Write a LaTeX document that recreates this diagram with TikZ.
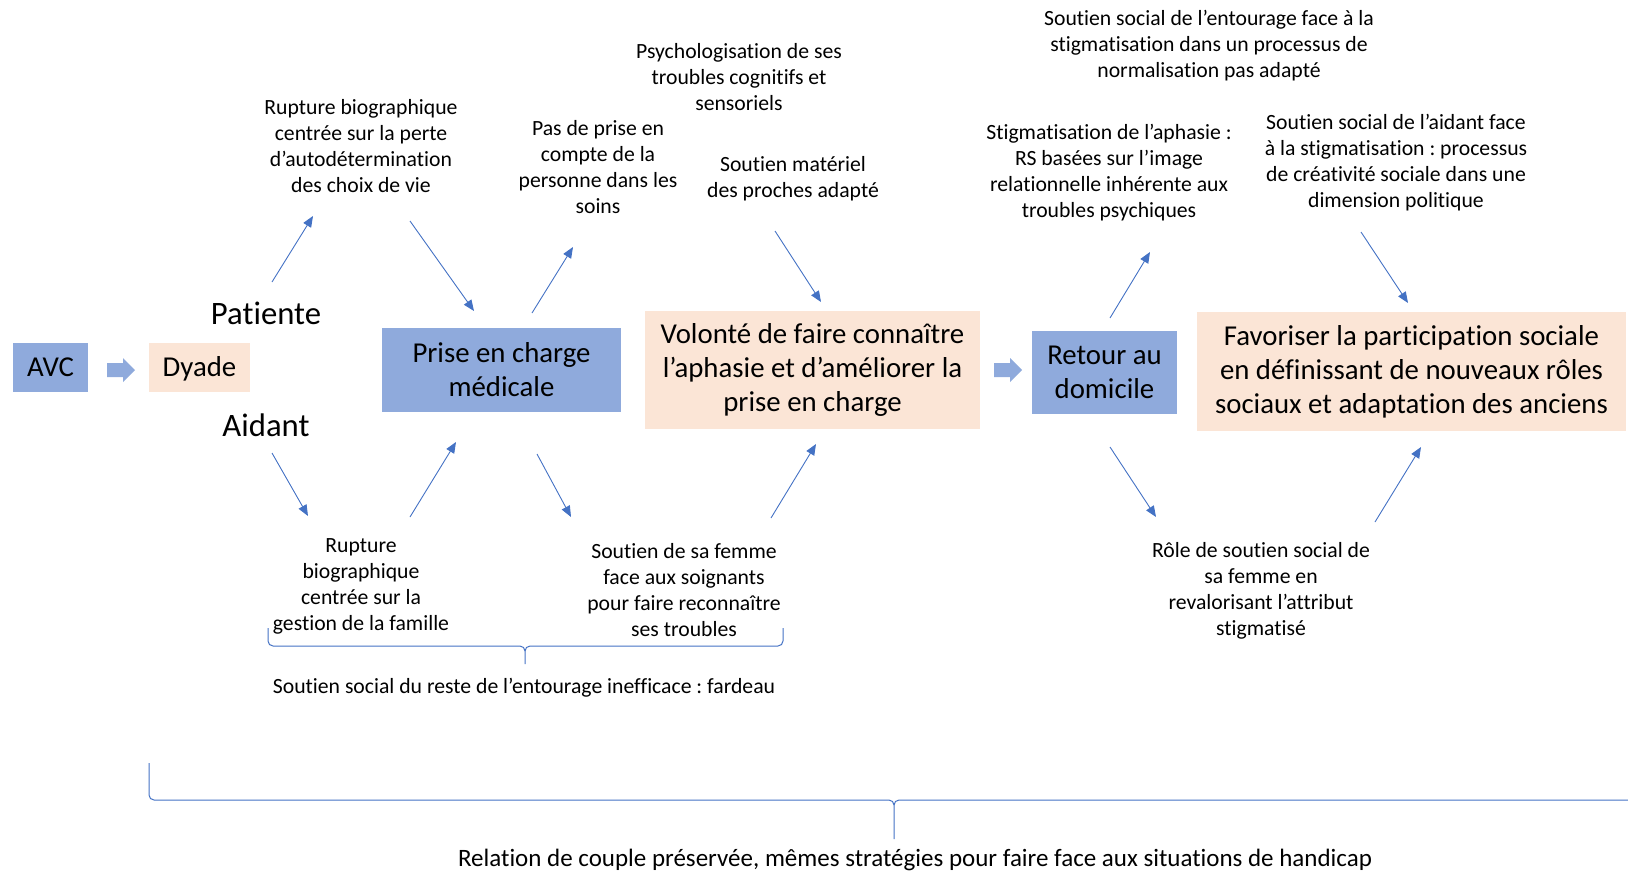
\documentclass[tikz,border=0pt]{standalone}
\usepackage{fontspec}
\setmainfont{Carlito}[Ligatures={TeX,NoCommon}]
\frenchspacing
\usetikzlibrary{arrows.meta}
\definecolor{boxblue}{HTML}{8FAADC}
\definecolor{boxpeach}{HTML}{FBE5D6}
\definecolor{lineblue}{HTML}{4472C4}
\tikzset{
  bluebox/.style={fill=boxblue, inner sep=0pt, align=center, font=\fontsize{28.8}{34}\selectfont},
  peachbox/.style={fill=boxpeach, inner sep=0pt, align=center, font=\fontsize{28.8}{34}\selectfont},
  smalltxt/.style={inner sep=0pt, align=center, font=\fontsize{21.7}{26}\selectfont},
  bigtxt/.style={inner sep=0pt, align=center, font=\fontsize{32.7}{36}\selectfont},
  conn/.style={draw=lineblue, line width=0.9pt, -{Triangle[length=11pt,width=9pt]}},
  brace/.style={draw=lineblue, line width=1pt},
  blockarrow/.style={fill=boxblue}
}
\begin{document}
\begin{tikzpicture}[x=1pt,y=-1pt]
\useasboundingbox (0,0) rectangle (1628,871);

% boxes
\node[bluebox, minimum width=75pt, minimum height=49pt, text height=18.5pt, text depth=0pt] (avc) at (50.5,367.5) {AVC};
\node[peachbox, minimum width=101pt, minimum height=49pt, text height=18.5pt, text depth=0pt] (dyade) at (199.5,367.5) {Dyade};
\node[bluebox, minimum width=239pt, minimum height=84pt] (prise) at (501.5,370) {Prise en charge\\médicale};
\node[peachbox, minimum width=335pt, minimum height=118pt] (volonte) at (812.5,370) {Volonté de faire connaître\\l’aphasie et d’améliorer la\\prise en charge};
\node[bluebox, minimum width=145pt, minimum height=83pt] (retour) at (1104.5,372.5) {Retour au\\domicile};
\node[peachbox, minimum width=429pt, minimum height=119pt] (favo) at (1411.5,371.5) {Favoriser la participation sociale\\en définissant de nouveaux rôles\\sociaux et adaptation des anciens};

% block arrows
\fill[blockarrow] (107,363) -- (123,363) -- (123,358) -- (135,370) -- (123,382) -- (123,377) -- (107,377) -- cycle;
\fill[blockarrow] (994,363) -- (1010,363) -- (1010,358) -- (1022,370) -- (1010,382) -- (1010,377) -- (994,377) -- cycle;

% labels
\node[bigtxt] (patiente) at (266,313) {Patiente};
\node[bigtxt] (aidant) at (266,425) {Aidant};

\node[smalltxt] (t1) at (361,146) {Rupture biographique\\centrée sur la perte\\d’autodétermination\\des choix de vie};
\node[smalltxt] (t2) at (598,167) {Pas de prise en\\compte de la\\personne dans les\\soins};
\node[smalltxt] (t3) at (739,77.5) {Psychologisation de ses\\troubles cognitifs et\\sensoriels};
\node[smalltxt] (t4) at (793,178.5) {Soutien matériel\\des proches adapté};
\node[smalltxt] (t5) at (1209,45.5) {Soutien social de l’entourage face à la\\stigmatisation dans un processus de\\normalisation pas adapté};
\node[smalltxt] (t6) at (1109,172.5) {Stigmatisation de l’aphasie :\\RS basées sur l’image\\relationnelle inhérente aux\\troubles psychiques};
\node[smalltxt] (t7) at (1396,163) {Soutien social de l’aidant face\\à la stigmatisation : processus\\de créativité sociale dans une\\dimension politique};
\node[smalltxt] (t8) at (361,586) {Rupture\\biographique\\centrée sur la\\gestion de la famille};
\node[smalltxt] (t9) at (684,590) {Soutien de sa femme\\face aux soignants\\pour faire reconnaître\\ses troubles};
\node[smalltxt] (t10) at (1261,591) {Rôle de soutien social de\\sa femme en\\revalorisant l’attribut\\stigmatisé};
\node[smalltxt] (t11) at (524,688) {Soutien social du reste de l’entourage inefficace : fardeau};
\node[smalltxt, font=\fontsize{25}{30}\selectfont] (t12) at (915,860) {Relation de couple préservée, mêmes stratégies pour faire face aux situations de handicap};

% arrow endpoints
\coordinate (a1s) at (272,282); \coordinate (a1e) at (313,216);
\coordinate (a2s) at (410,221); \coordinate (a2e) at (474,311);
\coordinate (a3s) at (532,313); \coordinate (a3e) at (573,247);
\coordinate (a4s) at (775,231); \coordinate (a4e) at (821,302);
\coordinate (a5s) at (272,453); \coordinate (a5e) at (308,516);
\coordinate (a6s) at (410,517); \coordinate (a6e) at (456,442);
\coordinate (a7s) at (537,454); \coordinate (a7e) at (571,517);
\coordinate (a8s) at (771,518); \coordinate (a8e) at (816,444);
\coordinate (a9s) at (1110,318); \coordinate (a9e) at (1150,252);
\coordinate (a10s) at (1361,232); \coordinate (a10e) at (1408,303);
\coordinate (a11s) at (1110,447); \coordinate (a11e) at (1156,517);
\coordinate (a12s) at (1375,522); \coordinate (a12e) at (1421,447);

\foreach \i in {1,...,12} { \draw[conn] (a\i s) -- (a\i e); }

% small brace
\coordinate (sbL) at (268,628); \coordinate (sbR) at (783,628); \coordinate (sbT) at (525,664);
\draw[brace] (sbL) -- (268,641) to[out=-90,in=180] (273,646) -- (520,646) to[out=0,in=90] (525,651) -- (sbT);
\draw[brace] (sbR) -- (783,641) to[out=-90,in=0] (778,646) -- (530,646) to[out=180,in=90] (525,651);

% big brace
\coordinate (bbL) at (149,763); \coordinate (bbT) at (894,839);
\draw[brace] (bbL) -- (149,795) to[out=-90,in=180] (154,800) -- (889,800) to[out=0,in=90] (894,805) -- (bbT);
\draw[brace] (1640,800) -- (899,800) to[out=180,in=90] (894,805);
\end{tikzpicture}
\end{document}
